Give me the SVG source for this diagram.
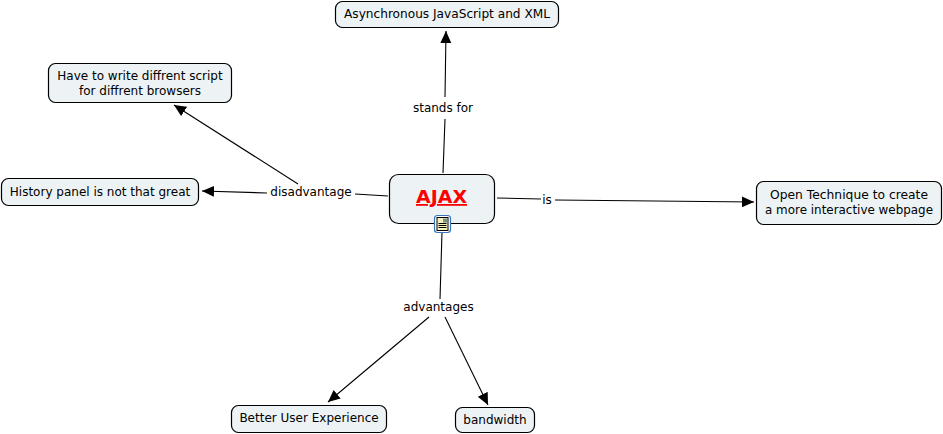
<svg xmlns="http://www.w3.org/2000/svg" width="943" height="434" viewBox="0 0 943 434">
<defs>
<marker id="arrow" markerUnits="userSpaceOnUse" markerWidth="13" markerHeight="12" refX="12" refY="5.500" orient="auto"><path d="M0 0L12 5.500L0 11Z" fill="#000"/></marker>
</defs>
<style>
.box{fill:#edf3f5;stroke:#000;stroke-width:1.2}
text{font-family:"DejaVu Sans",Verdana,sans-serif;font-size:12px;fill:#000;text-anchor:middle}
.line{stroke:#000;stroke-width:1.1;fill:none}
.arr{marker-end:url(#arrow)}
</style>
<rect width="943" height="434" fill="#fff"/>
<g id="connectors">
<path class="line" d="M443 173L445 119"/>
<path class="line arr" d="M445 97L446 31"/>
<path class="line arr" d="M298 184L174 105"/>
<path class="line arr" d="M267 193L202 191"/>
<path class="line" d="M388 196L355 194"/>
<path class="line" d="M497 198L541 199"/>
<path class="line arr" d="M555 200L754 202"/>
<path class="line" d="M442 232L440 299"/>
<path class="line arr" d="M429 317L328 402"/>
<path class="line arr" d="M445 317L488 405"/>
</g>
<g id="node-ajax"><rect class="box" x="389.500" y="174.500" width="105" height="49" rx="9"/>
<text x="441.500" y="203" textLength="51" lengthAdjust="spacingAndGlyphs" style="font-size:18px;font-weight:bold;fill:#f00;text-decoration:underline">AJAX</text></g>
<g id="icon">
<rect x="434.500" y="215.500" width="16" height="17" rx="3" fill="#fff" stroke="#3a74b8" stroke-width="1.2"/>
<rect x="437" y="217.500" width="11" height="13" fill="#f5f2b8" stroke="#000"/>
<path d="M438.500 223.500H446.500M438.500 225.500H446.500M438.500 227.500H446.500" stroke="#000"/>
<rect x="443" y="218.500" width="4" height="4" fill="#7a8f8a"/>
</g>
<g id="node-asynchronous"><rect class="box" x="335.500" y="1.500" width="223" height="26" rx="7"/><text x="447" y="18" textLength="206" lengthAdjust="spacingAndGlyphs">Asynchronous JavaScript and XML</text></g>
<g id="node-script"><rect class="box" x="48.500" y="63.500" width="183" height="39" rx="7"/><text x="140" y="80">Have to write diffrent script</text><text x="140" y="95">for diffrent browsers</text></g>
<g id="node-history"><rect class="box" x="1.500" y="178.500" width="197" height="27" rx="7"/><text x="100" y="196">History panel is not that great</text></g>
<g id="node-technique"><rect class="box" x="756.500" y="181.500" width="185" height="43" rx="7"/><text x="849" y="199" textLength="158" lengthAdjust="spacingAndGlyphs">Open Technique to create</text><text x="849" y="214" textLength="168" lengthAdjust="spacingAndGlyphs">a more interactive webpage</text></g>
<g id="node-better"><rect class="box" x="231.500" y="405.500" width="155" height="27" rx="7"/><text x="309" y="422">Better User Experience</text></g>
<g id="node-bandwidth"><rect class="box" x="455.500" y="407.500" width="79" height="25" rx="7"/><text x="495" y="424">bandwidth</text></g>
<g id="labels">
<text x="443" y="112">stands for</text>
<text x="311" y="196">disadvantage</text>
<text x="547" y="204">is</text>
<text x="438.500" y="311">advantages</text>
</g>
</svg>
